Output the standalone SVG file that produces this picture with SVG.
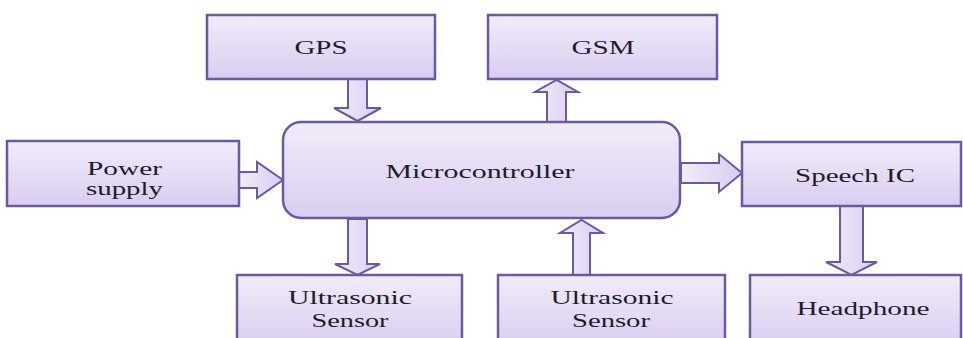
<svg xmlns="http://www.w3.org/2000/svg" width="963" height="338" viewBox="0 0 963 338">
<defs>
<linearGradient id="g" x1="0" y1="0" x2="0" y2="1">
<stop offset="0" stop-color="#f1ecf9"/>
<stop offset="1" stop-color="#d9cdf0"/>
</linearGradient>
<linearGradient id="gh" x1="0" y1="0" x2="1" y2="0">
<stop offset="0" stop-color="#f1ecf9"/>
<stop offset="1" stop-color="#d9cdf0"/>
</linearGradient>
</defs>
<style>
.box{fill:url(#g);stroke:#6b5b9e;stroke-width:2.5}
.arr{fill:url(#gh);stroke:#6b5b9e;stroke-width:2;stroke-linejoin:miter}
.t{font-family:'Liberation Serif','DejaVu Serif',serif;font-size:19px;fill:#1c1c2c;text-anchor:middle}
</style>
<rect width="963" height="338" fill="#ffffff"/>
<g id="connectors">
<polygon class="arr" points="348,79 367,79 367,108 381,108 357.5,121 334,108 348,108"/>
<polygon class="arr" points="547,122 566,122 566,92 578,92 556.5,80 535,92 547,92"/>
<polygon class="arr" points="239,172 257,172 257,162 283,180 257,198 257,188 239,188"/>
<polygon class="arr" points="681,163 719,163 719,154 742,173 719,192 719,183 681,183"/>
<polygon class="arr" points="840,206 863,206 863,262 877,262 851.5,275 826,262 840,262"/>
<polygon class="arr" points="348,219 367,219 367,264 380,264 357.5,275 335,264 348,264"/>
<polygon class="arr" points="573,275 590,275 590,233 603,233 581.5,220 560,233 573,233"/>
</g>
<g id="gps">
<rect class="box" x="207" y="15" width="228" height="64"/>
<text class="t" font-family="Liberation Serif, serif" x="321" y="54" textLength="53" lengthAdjust="spacingAndGlyphs">GPS</text>
</g>
<g id="gsm">
<rect class="box" x="488" y="15" width="229" height="64"/>
<text class="t" font-family="Liberation Serif, serif" x="603" y="54" textLength="63" lengthAdjust="spacingAndGlyphs">GSM</text>
</g>
<g id="power">
<rect class="box" x="7" y="141" width="232" height="65"/>
<text class="t" font-family="Liberation Serif, serif" x="124.5" y="175" font-size="18" textLength="75" lengthAdjust="spacingAndGlyphs">Power</text>
<text class="t" font-family="Liberation Serif, serif" x="124.5" y="195" font-size="18" textLength="77" lengthAdjust="spacingAndGlyphs">supply</text>
</g>
<g id="micro">
<rect class="box" x="283" y="122" width="397" height="96" rx="18"/>
<text class="t" font-family="Liberation Serif, serif" x="480" y="178" textLength="189" lengthAdjust="spacingAndGlyphs">Microcontroller</text>
</g>
<g id="speech">
<rect class="box" x="742" y="142" width="219" height="64"/>
<text class="t" font-family="Liberation Serif, serif" x="855" y="182" textLength="120" lengthAdjust="spacingAndGlyphs">Speech IC</text>
</g>
<g id="ultra1">
<rect class="box" x="237" y="275" width="225" height="72"/>
<text class="t" font-family="Liberation Serif, serif" x="350" y="304" textLength="124" lengthAdjust="spacingAndGlyphs">Ultrasonic</text>
<text class="t" font-family="Liberation Serif, serif" x="350" y="327" textLength="77" lengthAdjust="spacingAndGlyphs">Sensor</text>
</g>
<g id="ultra2">
<rect class="box" x="498" y="275" width="227" height="72"/>
<text class="t" font-family="Liberation Serif, serif" x="612" y="304" textLength="123" lengthAdjust="spacingAndGlyphs">Ultrasonic</text>
<text class="t" font-family="Liberation Serif, serif" x="611" y="327" textLength="78" lengthAdjust="spacingAndGlyphs">Sensor</text>
</g>
<g id="headphone">
<rect class="box" x="750" y="275" width="211" height="72"/>
<text class="t" font-family="Liberation Serif, serif" x="863" y="315" textLength="133" lengthAdjust="spacingAndGlyphs">Headphone</text>
</g>
</svg>
